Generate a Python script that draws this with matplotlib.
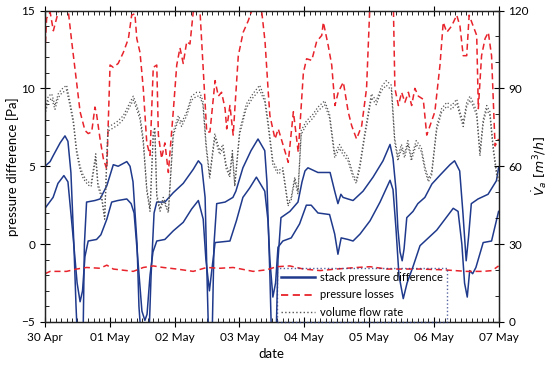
import pandas as pd
import numpy as np
import matplotlib
matplotlib.use("Agg")
import matplotlib.pyplot as plt
import matplotlib.dates as mdates
from matplotlib.lines import Line2D
from matplotlib.ticker import MultipleLocator

plt.rcParams['font.family'] = ['Lato', 'DejaVu Sans']

start = pd.Timestamp('2020-04-30')

# stack pressure difference, upper curve (hours from 30 Apr 00:00, Pa)
h_up = [0, 1.9, 3.1, 5.6, 7.4, 8.5, 9.6, 10.7, 11.5, 12.0, 14.1, 14.6, 15.4, 18.5, 20.4, 22.9,
        25.3, 27.1, 30.3, 31.5, 32.6, 34.1, 34.8, 35.6, 38.5, 39.3, 40.4, 41.4, 44.4, 47.5, 51.2,
        54.9, 56.8, 58.0, 59.3, 60.0, 60.6, 61.9, 62.6, 63.6, 66.7, 69.6, 70.7, 73.3, 76.3, 78.9,
        81.4, 82.2, 83.3, 83.9, 85.6, 86.3, 87.4, 90.7, 93.7, 95.2, 96.3, 97.4, 101.1, 105.6,
        107.3, 108.5, 109.6, 110.4, 112.2, 114.1, 117.8, 121.5, 125.2, 127.8, 128.9, 130.0, 130.7,
        131.5, 132.3, 133.0, 134.0, 136.3, 138.1, 140.7, 143.3, 146.7, 150.0, 151.7, 153.6, 154.8,
        156.0, 156.9, 157.9, 160.4, 164.1, 167.2, 168]
p_up = [5.0, 5.3, 5.7, 6.5, 6.95, 6.6, 4.6, 0.0, -4.0, -6.0, -6.0, 0.0, 2.7, 2.8, 2.9, 3.75,
        5.1, 5.0, 5.3, 5.0, 4.0, 0.0, -4.0, -6.0, -6.0, -2.0, 2.0, 2.7, 2.7, 3.3, 3.9,
        4.8, 5.35, 5.1, 3.0, -2.0, -6.0, -6.0, 0.0, 2.6, 2.7, 3.0, 3.4, 4.9, 6.0, 6.75,
        6.0, 4.0, -2.0, -6.0, -6.0, -1.0, 1.7, 2.1, 2.7, 4.0, 4.7, 4.9, 4.6, 4.6,
        3.4, 2.6, 3.2, 3.0, 2.9, 2.8, 3.4, 4.3, 5.35, 6.4, 5.5, 3.5, 1.0,
        -0.5, -1.07, -0.3, 1.7, 2.1, 2.6, 3.0, 3.86, 4.5, 5.1, 5.35, 4.7, 2.0,
        -1.07, 0.5, 2.6, 2.9, 3.2, 4.07, 4.9]

# stack pressure difference, lower curve
h_lo = [0, 3.0, 4.8, 7.0, 8.5, 10.4, 11.9, 13.0, 13.9, 14.8, 16.0, 19.1, 20.7, 22.9, 24.7, 27.0,
        30.3, 31.9, 33.0, 34.4, 35.9, 37.0, 37.8, 38.9, 40.0, 41.4, 44.4, 47.5, 51.2, 54.3, 56.8,
        58.6, 59.6, 60.9, 61.9, 63.0, 68.5, 70.9, 73.3, 75.8, 78.3, 81.4, 82.6, 83.3, 84.4, 85.4,
        86.3, 88.1, 91.2, 94.3, 96.8, 98.6, 101.1, 105.4, 107.3, 108.5, 109.7, 112.2, 114.1, 116.7,
        120.4, 124.1, 127.8, 128.9, 130.0, 131.1, 132.7, 134.1, 136.4, 138.9, 145.1, 151.2, 153.0,
        154.4, 155.4, 156.4, 157.3, 158.4, 159.6, 162.3, 165.4, 168]
p_lo = [2.3, 3.0, 3.9, 4.4, 4.0, 0.5, -2.5, -3.7, -3.0, -0.8, 0.2, 0.3, 0.6, 1.6, 2.7, 2.8,
        2.9, 2.6, 2.0, -1.0, -4.3, -4.9, -4.5, -2.0, -0.5, 0.2, 0.3, 0.85, 1.4, 2.25, 2.8,
        1.6, -1.0, -3.0, -1.5, 0.1, 0.2, 1.5, 3.0, 3.6, 4.3, 3.4, 1.5, -1.0, -3.4, -2.5,
        -0.2, 0.2, 0.4, 1.3, 2.5, 2.5, 2.0, 1.9, 0.65, -0.65, 0.4, 0.3, 0.2, 0.65,
        1.5, 2.7, 4.1, 3.5, 1.0, -2.0, -3.5, -2.5, -1.4, -0.1, 0.9, 2.3, 2.1,
        0.0, -2.5, -3.4, -1.7, -1.9, -1.5, 0.1, 0.2, 2.1]

# pressure losses, upper curve
h_loss = [0, 0.6, 1.9, 3.1, 4.9, 5.6, 7.8, 8.6, 9.9, 11.7, 13.0, 14.8, 16.0, 17.3, 18.5, 19.1,
          20.4, 21.6, 22.9, 24.1, 25.3, 27.1, 29.0, 30.9, 32.1, 33.3, 34.0, 35.2, 36.4, 37.7,
          38.9, 40.1, 41.4, 42.0, 43.2, 44.4, 45.7, 47.5, 48.8, 50.0, 51.2, 52.5, 53.7, 54.9,
          56.2, 57.4, 58.6, 59.9, 61.1, 63.0, 64.2, 65.4, 66.7, 67.3, 68.5, 69.7, 70.4, 71.6,
          73.4, 75.3, 76.6, 77.8, 79.6, 80.3, 81.5, 82.7, 83.3, 85.2, 86.4, 88.3, 90.1, 92.0,
          93.8, 95.7, 96.9, 98.8, 100.6, 102.5, 103.1, 104.9, 106.2, 107.4, 108.6, 110.5, 112.3,
          113.6, 115.4, 117.3, 119.1, 120.4, 129.0, 129.6, 130.9, 132.1, 133.3, 134.6, 135.8,
          137.0, 138.3, 140.1, 141.4, 142.6, 144.4, 146.3, 147.5, 148.8, 150.6, 152.5, 153.7,
          154.9, 156.2, 157.1, 158.6, 159.9, 160.5, 161.7, 163.0, 164.2, 165.4, 166.7, 168]
p_loss = [12.3, 14.5, 14.9, 13.7, 14.9, 15.6, 15.6, 15.0, 13.0, 10.4, 8.5, 7.3, 7.1, 7.2, 8.8, 8.35,
          6.75, 5.5, 4.8, 11.5, 11.35, 11.6, 12.3, 13.2, 14.7, 14.8, 13.2, 12.3, 10.0, 6.5,
          5.7, 11.35, 11.5, 7.0, 5.5, 6.5, 4.6, 8.5, 11.5, 12.6, 11.6, 13.0, 12.85, 14.9,
          15.6, 15.0, 11.25, 7.2, 7.2, 10.5, 9.5, 9.75, 8.7, 7.4, 8.9, 7.0, 8.9, 12.1,
          13.6, 14.35, 15.0, 15.6, 15.6, 14.9, 13.0, 9.75, 8.25, 6.75, 7.4, 6.3, 5.25, 8.5,
          5.9, 11.0, 11.9, 11.8, 13.0, 13.4, 14.25, 12.75, 11.5, 8.9, 9.75, 10.4, 8.5,
          7.6, 6.75, 7.6, 10.0, 15.6, 15.6, 10.0, 8.9, 9.75, 9.1, 9.75, 8.9,
          10.0, 9.5, 9.3, 7.0, 7.6, 8.5, 11.5, 14.25, 13.6, 14.0, 14.7, 14.0,
          12.1, 12.1, 14.7, 14.0, 13.4, 8.7, 12.1, 13.2, 13.6, 12.1, 6.3, 6.75]

# pressure losses, lower curve
h_loss2 = [0, 1.9, 8.0, 11.7, 15.4, 20.4, 22.9, 25.3, 32.7, 36.4, 40.1, 43.8, 48.8, 54.9, 59.9,
           64.8, 69.7, 77.1, 82.1, 85.8, 90.7, 95.7, 101.9, 108.0, 115.4, 120.4, 126.6, 138.9,
           147.5, 156.2, 162.3, 165.6, 168]
p_loss2 = [-1.9, -1.75, -1.75, -1.6, -1.5, -1.55, -1.35, -1.6, -1.75, -1.5, -1.4, -1.5, -1.6,
           -1.75, -1.5, -1.55, -1.5, -1.75, -1.65, -1.45, -1.4, -1.6, -1.7, -1.6, -1.5, -1.45,
           -1.6, -1.6, -1.65, -1.75, -1.75, -1.7, -1.4]

# volume flow rate (m3/h), two sensors
h_flow = [0, 1.2, 2.5, 3.7, 4.9, 6.2, 8.0, 9.3, 10.5, 11.7, 13.0, 14.2, 15.9, 17.1, 18.8, 19.6,
          20.9, 22.1, 23.3, 25.2, 27.0, 29.0, 31.5, 32.7, 34.0, 35.2, 36.4, 37.7, 38.9, 40.1,
          40.7, 41.4, 42.6, 43.8, 45.7, 47.5, 49.4, 50.6, 52.5, 54.3, 56.2, 57.3, 58.5, 59.7,
          61.0, 62.9, 64.7, 65.9, 67.1, 68.4, 69.4, 70.3, 72.1, 74.6, 77.0, 79.5, 81.4, 82.6,
          84.4, 86.3, 88.1, 90.0, 91.2, 92.5, 93.7, 94.9, 96.8, 99.3, 101.1, 103.6, 105.4,
          107.3, 109.1, 110.4, 112.2, 114.1, 115.3, 116.6, 118.4, 120.9, 122.7, 124.6, 126.4,
          128.3, 129.5, 130.7, 132.0, 133.2, 134.4, 135.7, 137.5, 139.4, 140.7, 142.0, 143.2,
          145.1, 146.9, 148.8, 150.6, 152.5, 153.7, 154.9, 156.2, 157.4, 158.6, 159.9, 161.1,
          162.3, 163.6, 164.8, 166.0, 167.3, 168]
q_flow1 = [81.3, 87.0, 87.9, 83.4, 87.9, 89.7, 91.2, 84.6, 78.0, 66.6, 60.0, 56.4, 54.0, 53.4,
           64.8, 53.4, 49.2, 40.2, 75.0, 76.2, 77.4, 79.5, 84.6, 87.0, 83.4, 79.5, 70.5, 51.6,
           43.5, 73.2, 75.0, 49.2, 43.5, 48.0, 42.9, 73.2, 79.5, 76.8, 81.0, 87.0, 88.5, 88.5,
           85.2, 68.4, 56.4, 72.6, 66.0, 68.4, 60.6, 57.0, 66.0, 53.1, 73.8, 84.0, 87.9, 91.2,
           86.4, 77.4, 62.1, 58.2, 59.4, 45.6, 48.0, 55.8, 50.4, 73.8, 77.4, 80.1, 82.8, 85.2,
           80.1, 64.8, 68.4, 66.0, 63.6, 57.0, 54.6, 60.6, 72.6, 87.9, 85.2, 90.6, 93.0, 91.2,
           71.1, 63.6, 68.4, 64.8, 69.9, 63.6, 69.9, 67.2, 60.0, 55.2, 57.6, 75.6, 82.2, 84.6,
           83.4, 85.8, 81.0, 76.8, 84.6, 87.0, 84.6, 81.0, 65.4, 78.0, 83.4, 81.0, 67.8, 57.6,
           55.2]
q_flow2 = [79.8, 85.2, 86.1, 81.9, 86.4, 88.2, 89.4, 83.1, 76.5, 65.1, 58.5, 55.2, 52.8, 52.2,
           63.0, 52.2, 48.0, 39.6, 73.5, 74.7, 75.9, 78.0, 83.1, 85.5, 81.9, 78.0, 69.0, 50.4,
           42.6, 71.7, 73.5, 48.0, 42.6, 46.8, 42.0, 71.7, 78.0, 75.3, 79.5, 85.5, 87.0, 87.0,
           83.7, 66.9, 55.2, 71.1, 64.5, 66.9, 59.1, 55.8, 64.5, 52.2, 72.3, 82.5, 86.4, 89.4,
           84.9, 75.9, 60.6, 57.0, 58.2, 44.7, 47.1, 54.6, 49.2, 72.3, 75.9, 78.6, 81.3, 83.7,
           78.6, 63.3, 66.9, 64.5, 62.1, 55.8, 53.4, 59.1, 71.1, 86.4, 83.7, 89.1, 91.2, 89.4,
           69.6, 62.1, 66.9, 63.3, 68.4, 62.1, 68.4, 65.7, 58.5, 54.0, 56.4, 74.1, 80.7, 83.1,
           81.9, 84.3, 79.5, 75.3, 83.1, 85.5, 83.1, 79.5, 63.9, 76.5, 81.9, 79.5, 66.3, 56.4,
           54.0]

navy = '#1f3a8c'
red = '#e8232b'
grey = '#555555'

def to_time(h):
    return start + pd.to_timedelta(h, unit='h')

fig = plt.figure(figsize=(5.5, 3.69), dpi=100)
ax = fig.add_axes([0.0818, 0.1274, 0.8247, 0.8441])
ax2 = ax.twinx()

ax.plot(to_time(h_up), p_up, color=navy, lw=1.1)
ax.plot(to_time(h_lo), p_lo, color=navy, lw=1.1)
ax.plot(to_time(h_loss), p_loss, color=red, lw=1.1, dashes=(4, 2.5))
ax.plot(to_time(h_loss2), p_loss2, color=red, lw=1.1, dashes=(4, 2.5))
ax2.plot(to_time(h_flow), q_flow1, color=grey, lw=0.9, ls=':')
ax2.plot(to_time(h_flow), q_flow2, color=grey, lw=0.9, ls=':')

ax.set_xlim(start, start + pd.Timedelta(days=7))
ax.set_ylim(-5, 15)
ax2.set_ylim(0, 120)

ax.xaxis.set_major_locator(mdates.DayLocator())
ax.xaxis.set_minor_locator(mdates.HourLocator(byhour=range(0, 24, 2)))
ax.xaxis.set_major_formatter(mdates.DateFormatter('%d %b'))
ax.yaxis.set_major_locator(MultipleLocator(5))
ax.yaxis.set_minor_locator(MultipleLocator(1))
ax2.yaxis.set_major_locator(MultipleLocator(30))
ax2.yaxis.set_minor_locator(MultipleLocator(10))

ax.tick_params(which='major', direction='inout', length=7, width=0.8, labelsize=8.5, top=True)
ax.tick_params(which='minor', direction='in', length=3, width=0.6, top=True)
ax.tick_params(axis='x', which='both', labeltop=False)
ax2.tick_params(which='major', direction='inout', length=7, width=0.8, labelsize=8.5)
ax2.tick_params(which='minor', direction='in', length=3, width=0.6)

for a in (ax, ax2):
    for s in a.spines.values():
        s.set_linewidth(0.9)
        s.set_color('#222222')

ax.set_xlabel('date', fontsize=9.5)
ax.set_ylabel('pressure difference [Pa]', fontsize=9.5, labelpad=2)
ax2.set_ylabel(r'$\dot{V}_a\ [m^3/h]$', fontsize=9, labelpad=1)

handles = [Line2D([], [], color=navy, lw=1.8),
           Line2D([], [], color=red, lw=1.3, dashes=(4, 2.5)),
           Line2D([], [], color=grey, lw=1.0, ls=':')]
labels = ['stack pressure difference', 'pressure losses', 'volume flow rate']
leg = ax2.legend(handles, labels, loc='lower left', bbox_to_anchor=(0.511, 0.0),
                 fontsize=8, frameon=True, fancybox=False, handlelength=3.0,
                 handletextpad=0.5, labelspacing=0.55, borderpad=0.4, borderaxespad=0)
leg.get_frame().set_facecolor('none')
leg.get_frame().set_edgecolor('#2b3f8a')
leg.get_frame().set_linestyle(':')
leg.get_frame().set_linewidth(1.0)

fig.savefig('out.png', dpi=100)
